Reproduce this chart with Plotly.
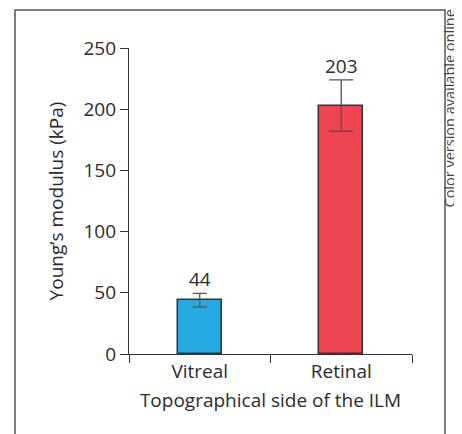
import plotly.graph_objects as go

categories = ["Vitreal", "Retinal"]
values = [44, 203]
errors = [5.5, 21]
bar_colors = ["#25A9E1", "#EF4550"]
cap_widths = [7, 12]
y_ticks = [0, 50, 100, 150, 200, 250]

FONT = "Open Sans"
TXT = "#2b2b2b"
FS = 19

# page body has an 8px margin; figure is sized/shifted to compensate
W, H = 454, 426
L, R, T, B = 121, 50, 40, 80
PW, PH = W - L - R, H - T - B

def px(x):
    return (x - 8 - L) / PW

def py(y):
    return (H - B - (y - 8)) / PH

fig = go.Figure()
for i, c in enumerate(categories):
    fig.add_trace(go.Bar(
        x=[c], y=[values[i]],
        marker=dict(color=bar_colors[i], line=dict(color="#333333", width=1.5)),
        width=0.31,
        error_y=dict(type="data", array=[errors[i]], color="#555555", thickness=1.3, width=cap_widths[i]),
        showlegend=False,
    ))

annotations = []
for i, c in enumerate(categories):
    annotations.append(dict(x=c, y=values[i] + errors[i], text=str(values[i]), showarrow=False,
                            yanchor="bottom", yshift=-1, font=dict(family=FONT, size=FS, color=TXT)))
annotations.append(dict(xref="paper", yref="paper", x=px(460), y=py(8),
                        text="Color version available online", textangle=-90, showarrow=False,
                        xanchor="right", yanchor="top", font=dict(family=FONT, size=14.5, color="#444444")))

fig.update_layout(
    width=W, height=H,
    margin=dict(l=L, r=R, t=T, b=B),
    paper_bgcolor="white", plot_bgcolor="white",
    font=dict(family=FONT, size=FS, color=TXT),
    bargap=0,
    xaxis=dict(
        type="category", categoryorder="array", categoryarray=categories,
        range=[-0.5, 1.5], tickson="boundaries",
        showline=True, linecolor="#333333", linewidth=1.3,
        ticks="outside", ticklen=8, tickcolor="#333333", tickwidth=1.3,
        tickfont=dict(size=FS),
        showgrid=False, zeroline=False,
        title=dict(text="Topographical side of the ILM", font=dict(size=FS), standoff=10),
    ),
    yaxis=dict(
        range=[0, 250], tickvals=y_ticks,
        showline=True, linecolor="#333333", linewidth=1.3,
        ticks="outside", ticklen=8, tickcolor="#333333", tickwidth=1.3,
        tickfont=dict(size=FS),
        showgrid=False, zeroline=False,
        title=dict(text="Young’s modulus (kPa)", font=dict(size=FS), standoff=14),
    ),
    shapes=[dict(type="rect", xref="paper", yref="paper",
                 x0=px(15), x1=px(445), y0=py(445), y1=py(10),
                 line=dict(color="#555555", width=1.5), fillcolor="rgba(0,0,0,0)", layer="below")],
    annotations=annotations,
)

fig.write_html("out.html")
